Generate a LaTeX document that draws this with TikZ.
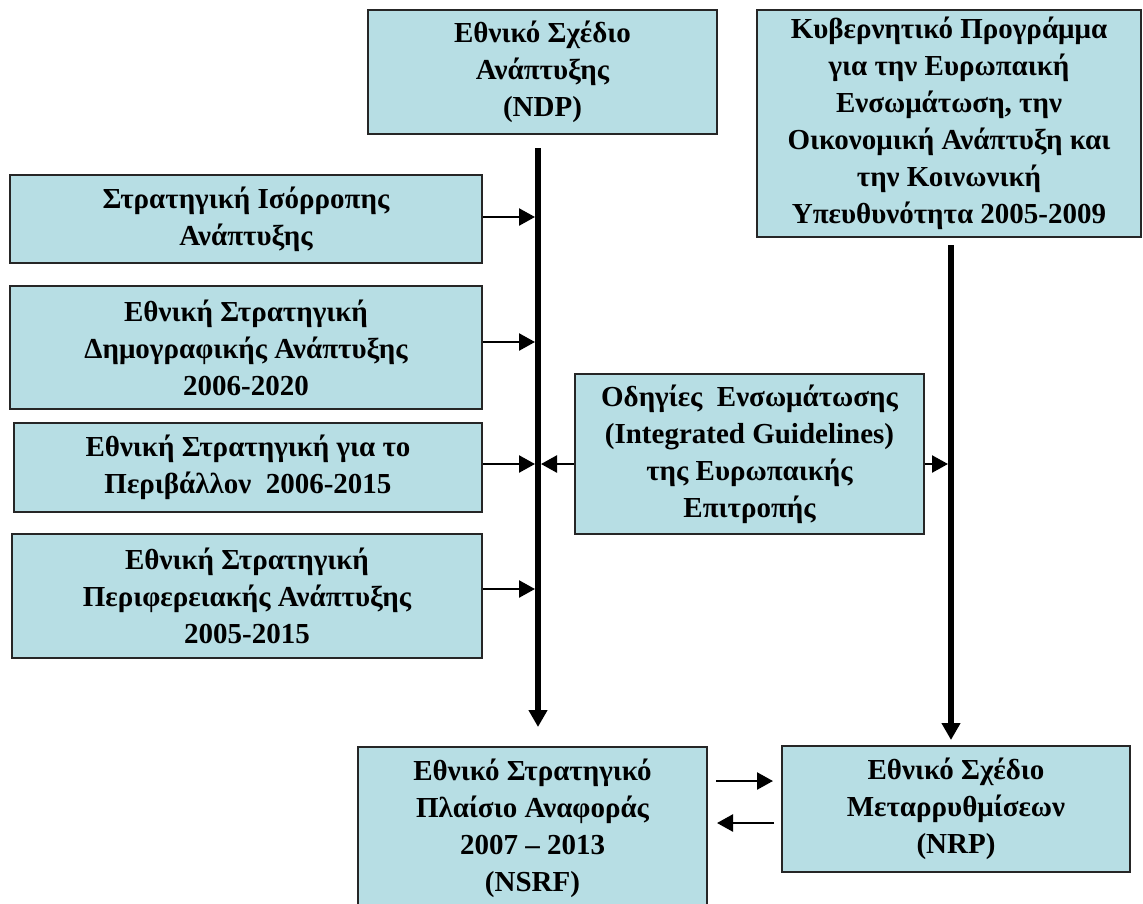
\documentclass[tikz,border=0pt]{standalone}
\usepackage{fontspec}
\setmainfont{Liberation Serif}
\usetikzlibrary{arrows.meta}
\definecolor{boxfill}{RGB}{183,222,228}
\tikzset{
  box/.style={draw=black!85, line width=1.6pt, fill=boxfill, inner sep=0pt, align=center,
    font=\fontsize{29}{37}\selectfont\bfseries},
  thickarrow/.style={line width=6pt, -{Triangle[length=17pt,width=18pt]}},
  thinarrow/.style={line width=2.4pt, -{Triangle[length=16pt,width=17pt]}},
}
\begin{document}
\begin{tikzpicture}[x=1pt,y=-1pt]
\useasboundingbox (0,0) rectangle (1143,903);
\node[box, minimum width=349pt, minimum height=124pt] (ndp) at (542.5,72) {Εθνικό Σχέδιο\\Ανάπτυξης\\(NDP)};
\node[box, minimum width=384pt, minimum height=227pt] (kyv) at (949,123.5) {Κυβερνητικό Προγράμμα\\για την Ευρωπαική\\Ενσωμάτωση, την\\Οικονομική Ανάπτυξη και\\την Κοινωνική\\Υπευθυνότητα 2005-2009};
\node[box, minimum width=472pt, minimum height=88pt] (s1) at (246,219) {Στρατηγική Ισόρροπης\\Ανάπτυξης};
\node[box, minimum width=472pt, minimum height=123pt] (s2) at (246,347.5) {Εθνική Στρατηγική\\Δημογραφικής Ανάπτυξης\\2006-2020};
\node[box, minimum width=468pt, minimum height=89pt] (s3) at (248,467.5) {Εθνική Στρατηγική για το\\Περιβάλλον~~2006-2015};
\node[box, minimum width=470pt, minimum height=124pt] (s4) at (247,596) {Εθνική Στρατηγική\\Περιφερειακής Ανάπτυξης\\2005-2015};
\node[box, minimum width=349pt, minimum height=160pt] (ig) at (749.5,454) {Οδηγίες~~Ενσωμάτωσης\\(Integrated Guidelines)\\της Ευρωπαικής\\Επιτροπής};
\node[box, minimum width=349pt, minimum height=162pt] (nsrf) at (532.5,828) {Εθνικό Στρατηγικό\\Πλαίσιο Αναφοράς\\2007 – 2013\\(NSRF)};
\node[box, minimum width=348pt, minimum height=126pt] (nrp) at (956,809) {Εθνικό Σχέδιο\\Μεταρρυθμίσεων\\(NRP)};
% main vertical lines
\coordinate (la) at (538,148);
\coordinate (lb) at (538,727);
\coordinate (ra) at (951,245);
\coordinate (rb) at (951,740);
\draw[thickarrow] (la) -- (lb);
\draw[thickarrow] (ra) -- (rb);
% side arrows into left line
\coordinate (t1) at (535,217);
\coordinate (t2) at (535,342);
\coordinate (t3) at (535,464);
\coordinate (t4) at (535,589);
\draw[thinarrow] (s1.east |- t1) -- (t1);
\draw[thinarrow] (s2.east |- t2) -- (t2);
\draw[thinarrow] (s3.east |- t3) -- (t3);
\draw[thinarrow] (s4.east |- t4) -- (t4);
% guidelines arrows
\coordinate (g1) at (541,464);
\coordinate (g2) at (948,464);
\draw[thinarrow] (ig.west |- g1) -- (g1);
\draw[thinarrow] (ig.east |- g2) -- (g2);
% bottom arrows
\coordinate (b1) at (716,781);
\coordinate (b2) at (773,781);
\coordinate (b3) at (774,823);
\coordinate (b4) at (717,823);
\draw[thinarrow] (b1) -- (b2);
\draw[thinarrow] (b3) -- (b4);
\end{tikzpicture}
\end{document}
